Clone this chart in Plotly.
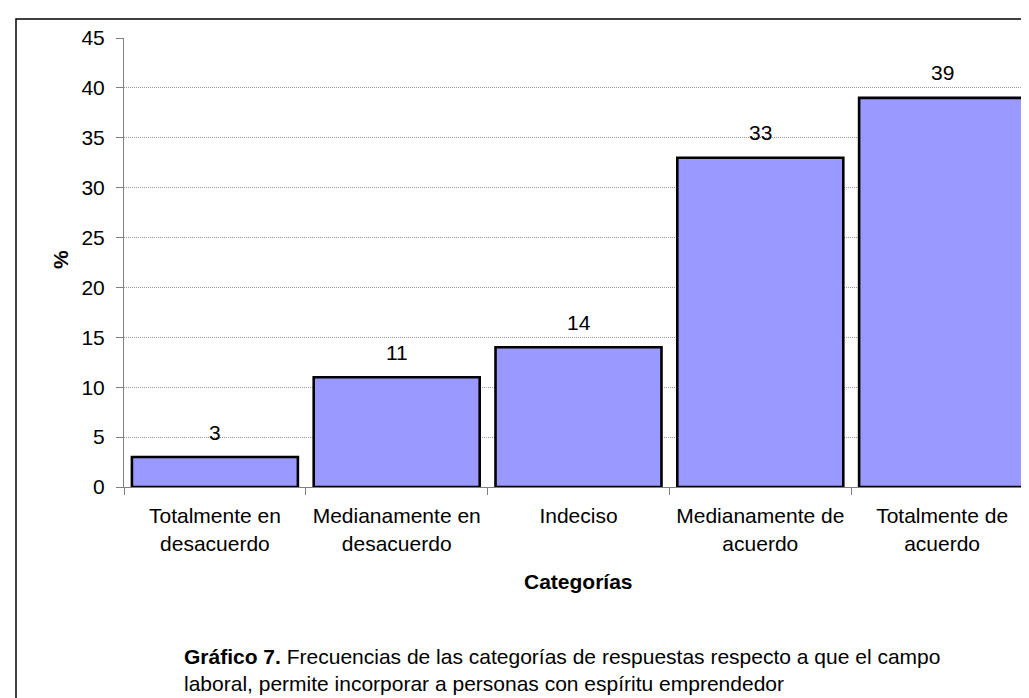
import plotly.graph_objects as go

categories = [
    "Totalmente en<br>desacuerdo",
    "Medianamente en<br>desacuerdo",
    "Indeciso",
    "Medianamente de<br>acuerdo",
    "Totalmente de<br>acuerdo",
]
values = [3, 11, 14, 33, 39]
y_ticks = [0, 5, 10, 15, 20, 25, 30, 35, 40, 45]

FONT = "Liberation Sans, Arial, sans-serif"
FS = 21
W, H = 1029, 698
ML, MR, MT, MB = 116, 4, 30, 219
PW = W - ML - MR
PH = H - MT - MB


def px_x(px):
    return (px - ML) / PW


def px_y(py):
    return (H - MB - py) / PH


fig = go.Figure()
fig.add_trace(go.Bar(
    x=categories,
    y=values,
    marker=dict(color="#9999FF", line=dict(color="black", width=2.6)),
    hoverinfo="skip",
))

annotations = []
for c, v in zip(categories, values):
    annotations.append(dict(
        x=c, y=v, xref="x", yref="y", text=str(v), showarrow=False,
        yanchor="middle", yshift=25, font=dict(family=FONT, size=FS, color="black"),
    ))

annotations.append(dict(
    x=0.5, y=px_y(573), xref="paper", yref="paper", text="<b>Categorías</b>",
    showarrow=False, xanchor="center", yanchor="middle",
    font=dict(family=FONT, size=FS, color="black"),
))
annotations.append(dict(
    x=px_x(52), y=px_y(252), xref="paper", yref="paper", text="<b>%</b>",
    showarrow=False, textangle=-90, xanchor="center", yanchor="middle",
    font=dict(family=FONT, size=FS, color="black"),
))
annotations.append(dict(
    x=px_x(174), y=px_y(661.5), xref="paper", yref="paper",
    text="<b>Gráfico 7.</b> Frecuencias de las categorías de respuestas respecto a que el campo<br>"
         "laboral, permite incorporar a personas con espíritu emprendedor",
    showarrow=False, xanchor="left", yanchor="middle", align="left",
    font=dict(family=FONT, size=FS, color="black"),
))

fig.update_layout(
    width=W, height=H,
    margin=dict(l=ML, r=MR, t=MT, b=MB, pad=0),
    paper_bgcolor="white", plot_bgcolor="white",
    showlegend=False,
    bargap=0.087,
    font=dict(family=FONT, size=FS, color="black"),
    annotations=annotations,
    shapes=[dict(
        type="rect", xref="paper", yref="paper",
        x0=px_x(8), x1=px_x(1045), y0=px_y(720), y1=px_y(11),
        line=dict(color="black", width=1.5), fillcolor="rgba(0,0,0,0)", layer="below",
    )],
)

fig.update_xaxes(
    showline=True, linecolor="#808080", linewidth=1,
    ticks="outside", ticklen=7, tickcolor="#808080", tickson="boundaries",
    ticklabelstandoff=10,
    showgrid=False, zeroline=False,
    tickfont=dict(family=FONT, size=FS, color="black"),
)
fig.update_yaxes(
    range=[0, 45], tickvals=y_ticks,
    showline=True, linecolor="#808080", linewidth=1,
    ticks="outside", ticklen=7, tickcolor="#808080",
    ticklabelstandoff=7,
    showgrid=True, gridcolor="#999999", griddash="1px,1px", gridwidth=1,
    zeroline=False,
    tickfont=dict(family=FONT, size=FS, color="black"),
)

fig.write_html("out.html")
